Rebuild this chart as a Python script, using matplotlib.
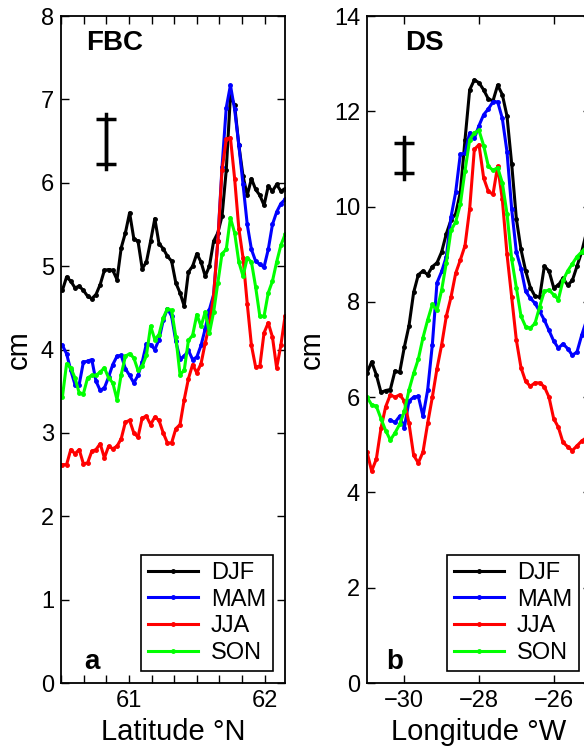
import numpy as np
import matplotlib
matplotlib.use("Agg")
import matplotlib.pyplot as plt
from matplotlib.ticker import MultipleLocator, FixedLocator

plt.rcParams['font.family'] = ['Liberation Sans', 'DejaVu Sans']

# ---- data: panel a (FBC), sea level variability vs latitude ----
lat = np.linspace(60.51, 62.15, 54)
fbc_djf = [4.71, 4.87, 4.82, 4.74, 4.76, 4.71, 4.64, 4.61, 4.66, 4.78,
           4.95, 4.96, 4.95, 4.84, 5.22, 5.40, 5.64, 5.33, 5.30, 4.97,
           5.05, 5.30, 5.57, 5.27, 5.21, 5.12, 5.06, 4.80, 4.68, 4.52,
           4.93, 5.00, 5.15, 5.05, 4.88, 5.00, 5.30, 5.40, 5.60, 6.15,
           7.05, 6.93, 6.45, 6.08, 5.85, 6.05, 5.92, 5.85, 5.73, 5.96,
           5.90, 5.98, 5.90, 5.93]
fbc_mam = [4.05, 3.95, 3.75, 3.58, 3.58, 3.85, 3.86, 3.88, 3.62, 3.51,
           3.54, 3.67, 3.82, 3.92, 3.93, 3.77, 3.69, 3.60, 3.69, 3.85,
           4.07, 4.06, 4.00, 4.12, 4.35, 4.49, 4.40, 4.10, 3.89, 3.92,
           3.99, 3.88, 3.91, 4.05, 4.25, 4.48, 4.66, 5.30, 6.19, 6.90,
           7.17, 6.88, 6.45, 5.98, 5.50, 5.20, 5.06, 5.02, 4.99, 5.20,
           5.50, 5.65, 5.75, 5.80]
fbc_jja = [2.62, 2.62, 2.80, 2.75, 2.80, 2.63, 2.64, 2.78, 2.80, 2.87,
           2.70, 2.84, 2.81, 2.84, 2.93, 3.13, 3.15, 3.00, 2.95, 3.18,
           3.20, 3.10, 3.19, 3.15, 3.00, 2.88, 2.88, 3.05, 3.10, 3.40,
           3.65, 3.82, 3.72, 3.83, 4.08, 4.30, 4.65, 5.30, 6.15, 6.52,
           6.54, 6.05, 5.45, 5.10, 4.55, 4.05, 3.79, 3.80, 4.20, 4.32,
           4.15, 3.78, 4.05, 4.40]
fbc_son = [3.43, 3.83, 3.78, 3.66, 3.48, 3.47, 3.66, 3.69, 3.69, 3.73,
           3.78, 3.66, 3.60, 3.40, 3.70, 3.92, 3.95, 3.90, 3.75, 3.80,
           3.93, 4.28, 4.12, 4.18, 4.38, 4.49, 4.47, 4.15, 3.70, 3.75,
           4.11, 4.17, 4.42, 4.28, 4.45, 4.20, 4.45, 4.80, 5.15, 5.20,
           5.58, 5.40, 5.05, 4.88, 5.10, 5.05, 4.75, 4.40, 4.40, 4.68,
           4.82, 5.05, 5.25, 5.38]

# ---- data: panel b (DS), sea level variability vs longitude ----
lon = np.arange(-31.0, -25.05, 0.125)
ds_djf = [6.51, 6.74, 6.47, 6.10, 6.14, 6.16, 6.55, 6.52, 7.05, 7.50,
          8.20, 8.57, 8.65, 8.57, 8.74, 8.82, 9.05, 9.43, 9.72, 9.85,
          10.30, 11.40, 12.45, 12.66, 12.60, 12.45, 12.26, 12.22, 12.55, 12.35,
          11.90, 10.90, 9.75, 9.10, 8.65, 8.30, 8.12, 8.10, 8.75, 8.65,
          8.30, 8.35, 8.50, 8.35, 8.45, 8.75, 9.05, 9.45]
ds_mam = [np.nan, np.nan, np.nan, np.nan, np.nan, 5.52, 5.47, 5.60, 5.36, 5.92,
          6.00, 6.02, 5.60, 6.15, 7.10, 8.40, 8.64, 8.95, 9.78, 10.30,
          11.10, 11.12, 11.55, 11.43, 11.70, 11.93, 12.05, 12.20, 12.20, 11.85,
          11.15, 9.95, 9.05, 8.70, 8.22, 8.08, 7.97, 7.80, 7.62, 7.40,
          7.18, 7.03, 7.12, 7.02, 6.88, 6.95, 7.30, 7.60]
ds_jja = [4.85, 4.45, 4.70, 5.35, 5.80, 6.05, 6.00, 6.05, 5.92, 5.45,
          4.78, 4.62, 4.85, 5.45, 6.00, 6.60, 7.10, 7.70, 8.10, 8.60,
          8.88, 9.18, 9.95, 11.20, 11.30, 10.60, 10.32, 10.26, 10.85, 10.15,
          9.00, 8.10, 7.20, 6.62, 6.33, 6.23, 6.30, 6.30, 6.22, 6.00,
          5.55, 5.37, 5.05, 4.96, 4.88, 4.98, 5.08, 5.15]
ds_son = [6.00, 5.84, 5.81, 5.55, 5.30, 5.10, 5.25, 5.43, 5.70, 6.15,
          6.50, 6.80, 7.25, 7.62, 7.95, 7.82, 8.25, 8.82, 9.50, 9.68,
          10.05, 10.75, 11.40, 11.55, 11.60, 11.28, 10.85, 10.76, 10.82, 10.50,
          9.85, 8.90, 8.30, 7.70, 7.48, 7.45, 7.55, 7.90, 8.22, 8.25,
          8.15, 8.05, 8.45, 8.65, 8.80, 8.95, 9.05, 9.15]

seasons = ['DJF', 'MAM', 'JJA', 'SON']
colors = ['k', '#0000ff', '#ff0000', '#00ff00']

# typical error bars (center x, center y, half-length)
err_a = (60.833, 6.5, 0.27)
err_b = (-30.0, 11.03, 0.315)

fig = plt.figure(figsize=(5.84, 7.5), dpi=100)
ax1 = fig.add_axes([0.1045, 0.0893, 0.3836, 0.8893])
ax2 = fig.add_axes([0.6284, 0.0893, 0.3836, 0.8893])


def draw_panel(ax, x, series, err, ext):
    for s, c, lab in zip(series, colors, seasons):
        ax.plot(x, s, color=c, lw=2.2, marker='.', ms=5, label=lab)
    ex, ey, ee = err
    ax.plot([ex, ex], [ey - ee * ext, ey + ee * ext], color='k', lw=2.5)
    ax.errorbar([ex], [ey], yerr=[ee], color='k', lw=2.5, capsize=7,
                capthick=2.5, fmt='none')
    ax.tick_params(direction='in', which='both', top=True, right=True,
                   length=6, width=1, labelsize=17, pad=5)
    for sp in ax.spines.values():
        sp.set_linewidth(1.3)
    leg = ax.legend(loc='lower right', fontsize=17, frameon=True,
                    fancybox=False, edgecolor='k', framealpha=1,
                    handlelength=2.1, handletextpad=0.55, labelspacing=0.2,
                    borderaxespad=0.5, borderpad=0.3)
    leg.get_frame().set_linewidth(1.2)
    ax.set_ylabel('cm', fontsize=21, labelpad=6)


draw_panel(ax1, lat, [fbc_djf, fbc_mam, fbc_jja, fbc_son], err_a, 1.22)
ax1.set_xlim(60.5, 62.15)
ax1.set_ylim(0, 8)
ax1.xaxis.set_major_locator(FixedLocator([61, 62]))
ax1.xaxis.set_minor_locator(MultipleLocator(1 / 6))
ax1.yaxis.set_major_locator(MultipleLocator(1))
ax1.set_xlabel('Latitude °N', fontsize=21, labelpad=4)
ax1.text(0.11, 0.96, 'FBC', transform=ax1.transAxes, fontsize=20,
         fontweight='bold', va='center', ha='left')
ax1.text(0.105, 0.012, 'a', transform=ax1.transAxes, fontsize=20,
         fontweight='bold', va='bottom', ha='left')

draw_panel(ax2, lon, [ds_djf, ds_mam, ds_jja, ds_son], err_b, 1.4)
ax2.set_xlim(-31.0, -25.0)
ax2.set_ylim(0, 14)
ax2.xaxis.set_major_locator(MultipleLocator(2))
ax2.yaxis.set_major_locator(MultipleLocator(2))
ax2.set_xlabel('Longitude °W', fontsize=21, labelpad=4)
ax2.text(0.17, 0.96, 'DS', transform=ax2.transAxes, fontsize=20,
         fontweight='bold', va='center', ha='left')
ax2.text(0.085, 0.012, 'b', transform=ax2.transAxes, fontsize=20,
         fontweight='bold', va='bottom', ha='left')

fig.savefig('out.png', dpi=100)
